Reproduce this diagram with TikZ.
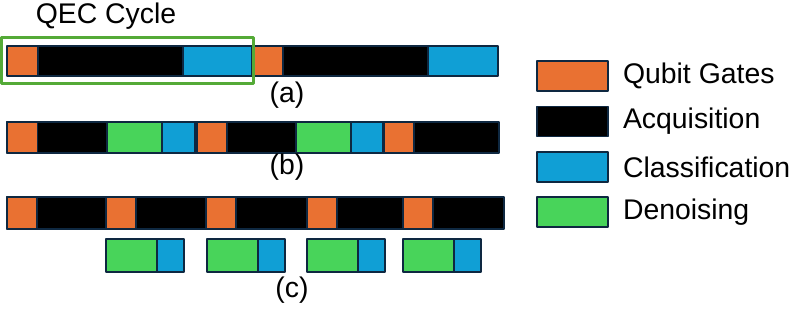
\documentclass[tikz,border=0pt]{standalone}
\usepackage{fontspec}
\setmainfont{Liberation Sans}
\usepackage{xcolor}
\usetikzlibrary{positioning}
\definecolor{gateorange}{RGB}{233,113,50}
\definecolor{classblue}{RGB}{16,159,213}
\definecolor{denoisegreen}{RGB}{72,212,90}
\definecolor{cyclegreen}{RGB}{84,170,55}
\definecolor{edgeblue}{RGB}{14,40,65}
\tikzset{
  seg/.style={draw=edgeblue,line width=0.6pt},
  gate/.style={seg,fill=gateorange},
  acq/.style={seg,fill=black},
  cls/.style={seg,fill=classblue},
  dns/.style={seg,fill=denoisegreen},
  swatch/.style={seg,minimum width=35.5pt,minimum height=15pt,inner sep=0pt},
  lbl/.style={font=\fontsize{14.2}{17}\selectfont,inner sep=0pt},
}

\begin{document}
\begin{tikzpicture}[x=0.5pt,y=-0.5pt,line join=round]
\useasboundingbox (0,0) rectangle (797,309);
% (a) plain cycles
\draw[gate] (7,46) rectangle (38,76);
\draw[acq] (38,46) rectangle (183,76);
\draw[cls] (183,46) rectangle (252,76);
\draw[gate] (253,46) rectangle (283,76);
\draw[acq] (283,46) rectangle (428,76);
\draw[cls] (428,46) rectangle (498,76);
\draw[cyclegreen,line width=1.5pt] (1.5,37.5) rectangle (253.5,83.5);
\node[lbl] (cycle) at (106,16) {QEC Cycle};
\node[lbl] (capa) at (287,95) {(a)};
% (b) denoising inside the acquisition
\draw[acq] (7,122) rectangle (499,153);
\draw[gate] (7,122) rectangle (37.5,153);
\draw[dns] (107,122) rectangle (162,153);
\draw[cls] (162,122) rectangle (195,153);
\draw[gate] (197,122) rectangle (227,153);
\draw[dns] (296,122) rectangle (351,153);
\draw[cls] (351,122) rectangle (383,153);
\draw[gate] (384,122) rectangle (414,153);
\node[lbl] (capb) at (287,167) {(b)};
% (c) denoising in parallel
\draw[acq] (7,197) rectangle (504,229);
\foreach \x in {7,106,206,307,403}
  \draw[gate] (\x,197) rectangle ++(30,32);
\foreach \x in {106,207,307,403} {
  \draw[dns] (\x,239) rectangle ++(51,33);
  \draw[cls] (\x+51,239) rectangle ++(27,33);
}
\node[lbl] (capc) at (292,290) {(c)};
% legend
\node[swatch,fill=gateorange] (lgGate) at (572.5,76) {};
\node[swatch,fill=black] (lgAcq) at (572.5,121.5) {};
\node[swatch,fill=classblue] (lgCls) at (572.5,167) {};
\node[swatch,fill=denoisegreen] (lgDns) at (572.5,212) {};
\node[lbl,right=7pt of lgGate] (txGate) {Qubit Gates};
\node[lbl,right=7pt of lgAcq] (txAcq) {Acquisition};
\node[lbl,right=7pt of lgCls] (txCls) {Classification};
\node[lbl,right=7pt of lgDns] (txDns) {Denoising};
\end{tikzpicture}
\end{document}
